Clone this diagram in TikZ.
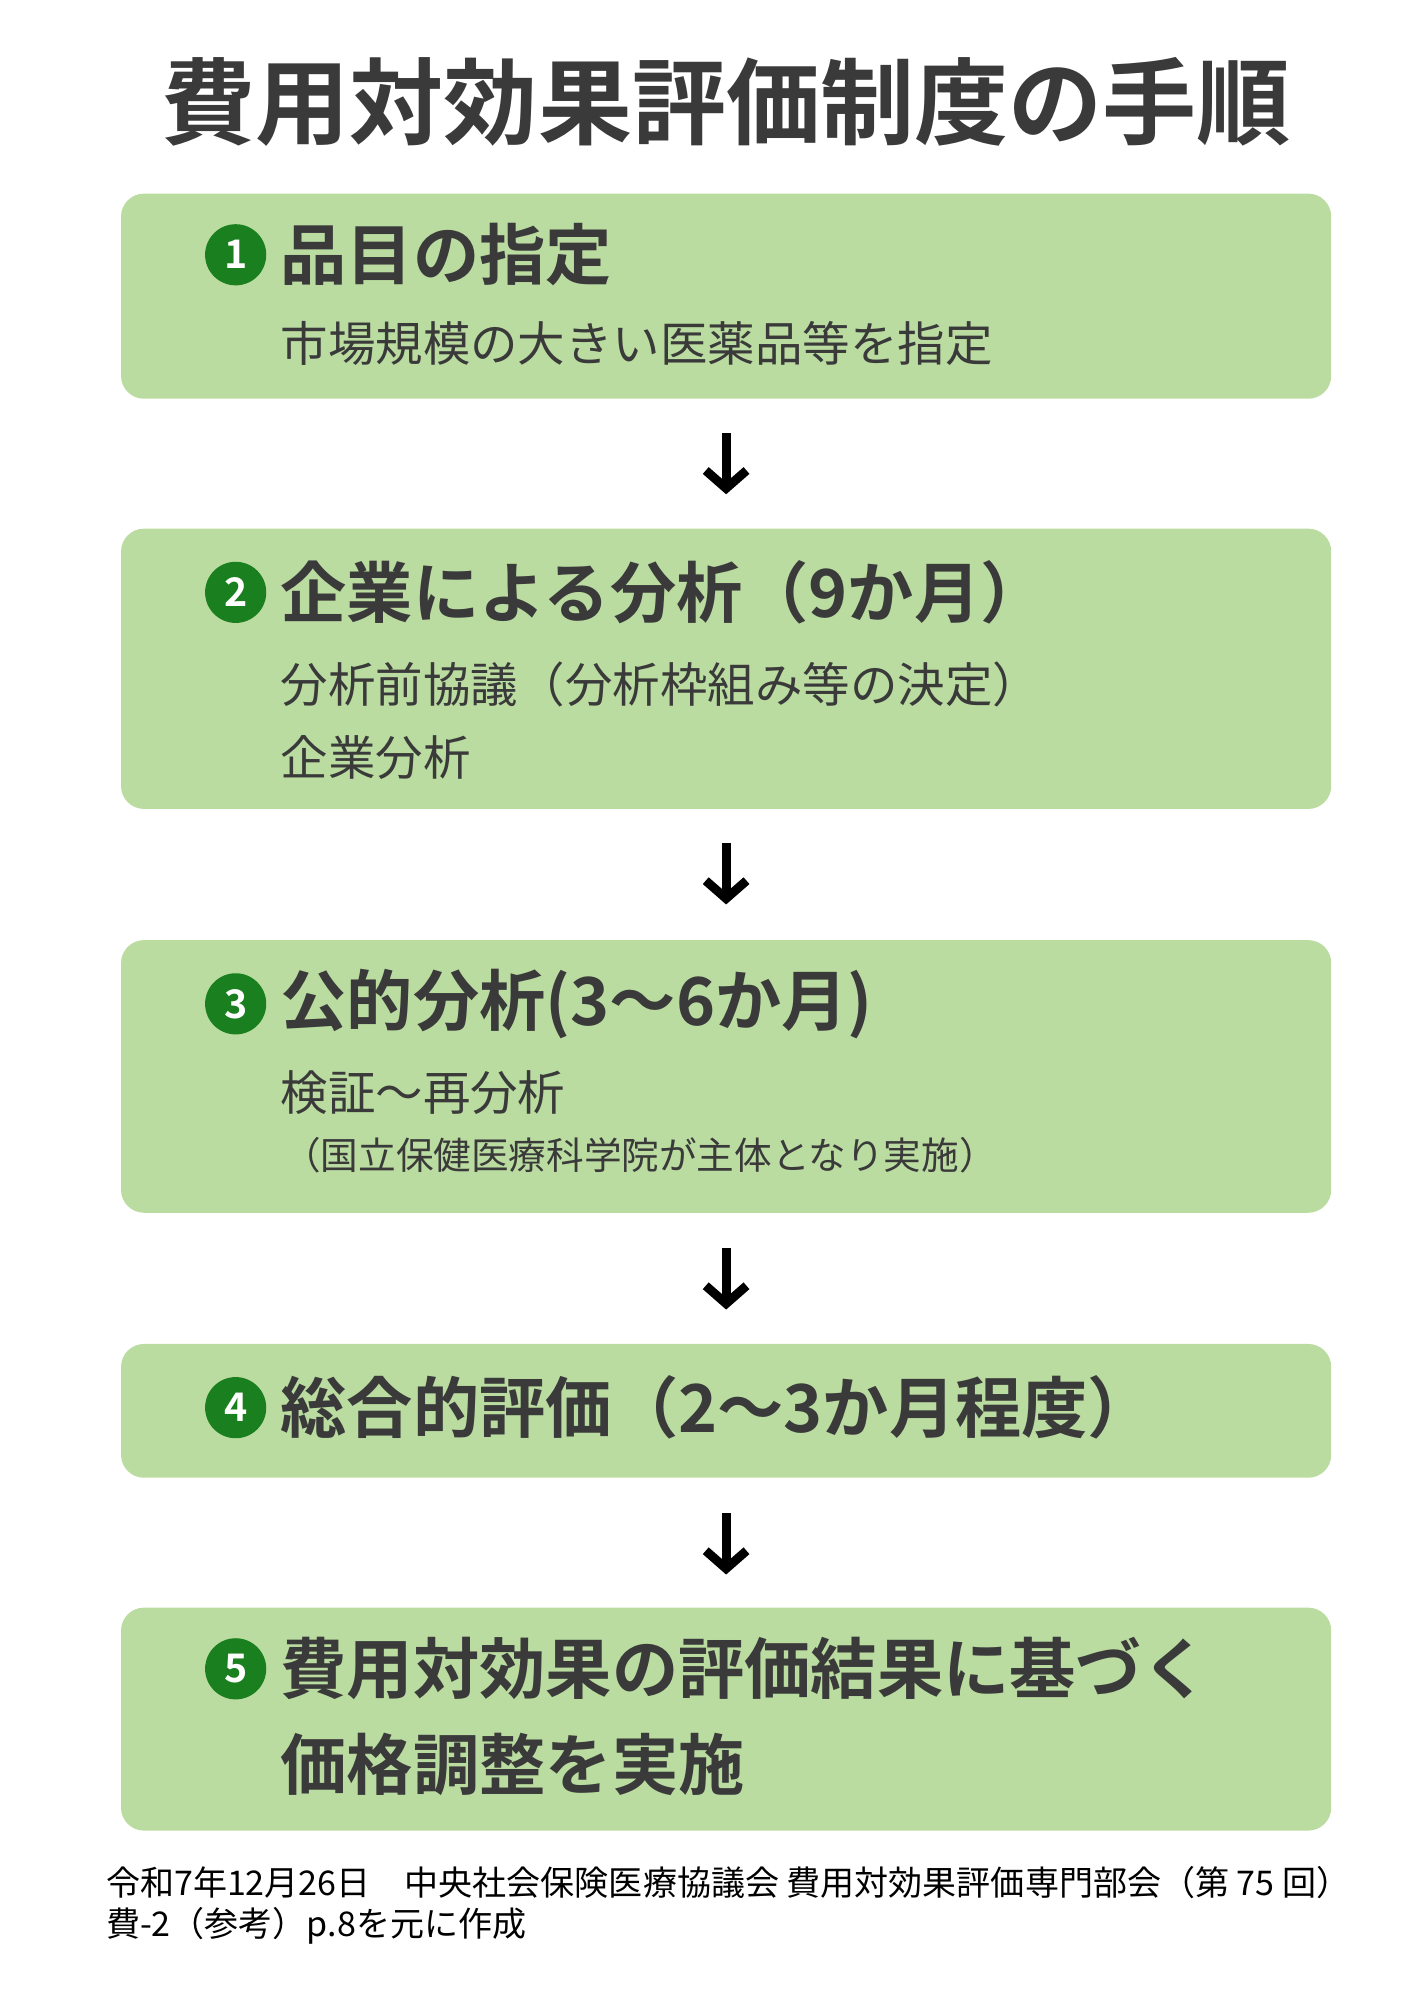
\documentclass[tikz,border=0pt]{standalone}
\usepackage{fontspec}
\setmainfont{Noto Sans CJK JP}
\newfontfamily\jpbold{Noto Sans CJK JP Bold}
\usetikzlibrary{
  arrows.meta,
  positioning,  % Function "of" (e.g. [right=of x])
}
\definecolor{stepgreen}{HTML}{BADCA0}
\definecolor{numgreen}{HTML}{1A7F1E}
\definecolor{textgray}{HTML}{3A3A3A}
\tikzset{
  x=0.025cm,
  y=-0.025cm,
  step box/.style={
    fill=stepgreen,
    rounded corners=0.45cm
  },
  step num/.style={
    circle,
    fill=numgreen,
    text=white,
    minimum size=1.2cm,
    inner sep=0mm,
    font=\jpbold\fontsize{22}{22}\selectfont
  },
  step head/.style={
    anchor=west,
    text=textgray,
    inner sep=0mm,
    font=\jpbold\fontsize{37}{40}\selectfont
  },
  step text/.style={
    anchor=west,
    text=textgray,
    inner sep=0mm,
    font=\fontsize{26.5}{28}\selectfont
  },
  step small/.style={
    anchor=west,
    text=textgray,
    inner sep=0mm,
    font=\fontsize{21}{22}\selectfont
  },
  down/.style={
    -{Straight Barb[length=3.5mm,width=8mm,line width=5pt]},
    line width=5pt
  }
}
\begin{document}
\begin{tikzpicture}
\useasboundingbox (0,0) rectangle (1110,1570);
% title
\node[text=textgray,font=\jpbold\fontsize{52.5}{60}\selectfont] (title) at (570,80) {費用対効果評価制度の手順};
% boxes
\fill[step box] (95,152) rectangle (1045,313);
\fill[step box] (95,415) rectangle (1045,635);
\fill[step box] (95,738) rectangle (1045,952);
\fill[step box] (95,1055) rectangle (1045,1160);
\fill[step box] (95,1262) rectangle (1045,1437);
% step 1
\node[step num]  (n1) at (185,200) {1};
\node[step head] (h1) at (220,200) {品目の指定};
\node[step text] (t1) at (220,270) {市場規模の大きい医薬品等を指定};
% step 2
\node[step num]  (n2) at (185,465) {2};
\node[step head] (h2) at (220,465) {企業による分析（9か月）};
\node[step text] (t2a) at (220,537) {分析前協議（分析枠組み等の決定）};
\node[step text] (t2b) at (220,595) {企業分析};
% step 3
\node[step num]  (n3) at (185,788) {3};
\node[step head] (h3) at (220,788) {公的分析(3〜6か月)};
\node[step text] (t3a) at (220,858) {検証〜再分析};
\node[step small] (t3b) at (222,907) {（国立保健医療科学院が主体となり実施）};
% step 4
\node[step num]  (n4) at (185,1105) {4};
\node[step head] (h4) at (220,1105) {総合的評価（2〜3か月程度）};
% step 5
\node[step num]  (n5) at (185,1310) {5};
\node[step head] (h5a) at (220,1310) {費用対効果の評価結果に基づく};
\node[step head] (h5b) at (220,1385) {価格調整を実施};
% arrows
\coordinate (a1) at (570,340); \coordinate (b1) at (570,388);
\coordinate (a2) at (570,662); \coordinate (b2) at (570,710);
\coordinate (a3) at (570,980); \coordinate (b3) at (570,1028);
\coordinate (a4) at (570,1188); \coordinate (b4) at (570,1236);
\foreach \i in {1,...,4}
  \draw[down] (a\i) -- (b\i);
% source
\node[step small,text=black,font=\fontsize{19}{20}\selectfont] (src1) at (83,1478) {令和7年12月26日　中央社会保険医療協議会 費用対効果評価専門部会（第 75 回）};
\node[step small,text=black,font=\fontsize{19}{20}\selectfont] (src2) at (83,1512) {費-2（参考）p.8を元に作成};
\end{tikzpicture}
\end{document}
